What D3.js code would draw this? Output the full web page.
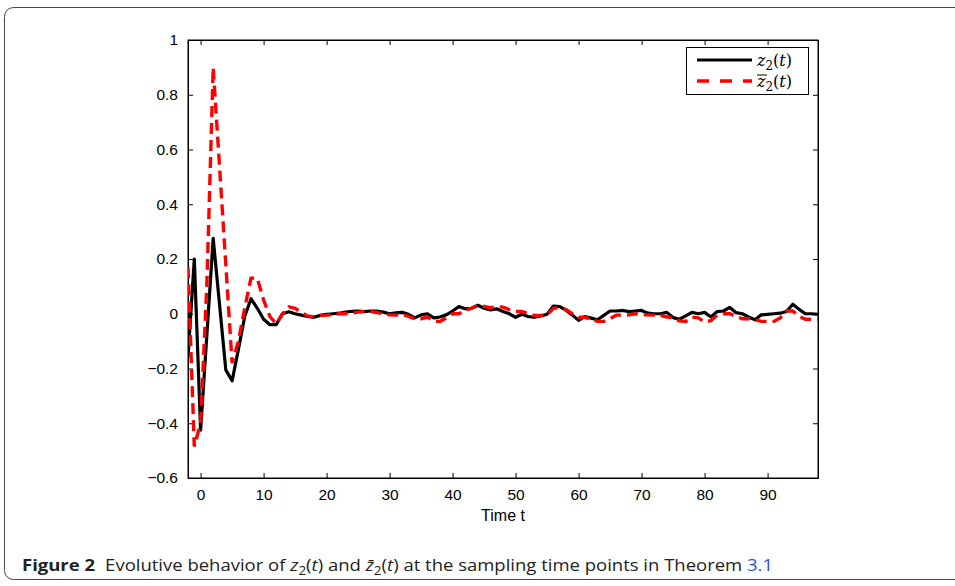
<!DOCTYPE html>
<html>
<head>
<meta charset="utf-8">
<script src="https://cdn.jsdelivr.net/npm/d3@7"></script>
<style>
  body { margin: 0; background: #fff; }
</style>
</head>
<body>
<script>
// sampling times t = -2 .. 98
var times = d3.range(-2, 99);

var z2 = [-0.16, 0.20, -0.425, -0.075, 0.275, 0.035, -0.205, -0.245, -0.13, -0.01,
  0.055, 0.02, -0.02, -0.04, -0.04, 0.0, 0.007, 0.0, -0.005, -0.01,
  -0.013, -0.006, -0.002, 0.0, 0.002, 0.006, 0.009, 0.01, 0.008, 0.01,
  0.01, 0.006, 0.0, 0.003, 0.005, -0.002, -0.015, -0.004, 0.0, -0.015,
  -0.012, -0.004, 0.01, 0.026, 0.018, 0.02, 0.031, 0.02, 0.014, 0.018,
  0.008, 0.0, -0.013, -0.002, -0.01, -0.013, -0.008, -0.002, 0.028, 0.026,
  0.013, -0.005, -0.024, -0.01, -0.016, -0.022, -0.006, 0.01, 0.01, 0.012,
  0.008, 0.01, 0.012, 0.002, 0.0, 0.0, 0.005, -0.014, -0.02, -0.008,
  0.005, 0.0, 0.005, -0.012, 0.008, 0.01, 0.023, 0.004, 0.0, -0.012,
  -0.022, -0.004, -0.002, 0.0, 0.002, 0.008, 0.035, 0.016, 0.0, 0.0, -0.002];

var z2bar = [0.17, -0.485, -0.40, 0.11, 0.90, 0.54, 0.18, -0.18, -0.10, 0.02,
  0.13, 0.13, 0.05, -0.01, -0.037, 0.0, 0.025, 0.02, 0.005, -0.008,
  -0.012, -0.006, -0.005, -0.003, 0.0, 0.0, 0.002, 0.006, 0.008, 0.008,
  0.004, 0.0, -0.004, -0.005, -0.002, -0.01, -0.018, -0.018, -0.012, -0.027,
  -0.028, -0.015, 0.0, 0.0, 0.012, 0.02, 0.03, 0.027, 0.022, 0.026,
  0.024, 0.015, 0.008, 0.008, 0.0, -0.006, -0.006, -0.004, 0.02, 0.022,
  0.015, 0.0, -0.013, -0.013, -0.02, -0.028, -0.028, -0.018, -0.005, -0.005,
  -0.004, 0.0, -0.004, -0.004, -0.005, -0.006, -0.012, -0.015, -0.026, -0.028,
  -0.012, -0.015, -0.03, -0.025, -0.005, 0.0, 0.0, -0.01, -0.018, -0.018,
  -0.022, -0.028, -0.028, -0.028, -0.015, 0.01, 0.01, -0.01, -0.02, -0.02, -0.02];

var xTicks = [0, 10, 20, 30, 40, 50, 60, 70, 80, 90];
var yTicks = [-0.6, -0.4, -0.2, 0, 0.2, 0.4, 0.6, 0.8, 1];

var W = 955, H = 586;
var m = {left: 188, right: 818, top: 40, bottom: 478};

var svg = d3.select("body").append("svg")
  .attr("width", W).attr("height", H)
  .attr("font-family", "'Liberation Sans', Arial, sans-serif");

// outer frame (rounded, runs off the right edge)
svg.append("rect")
  .attr("x", 4.5).attr("y", 7.5)
  .attr("width", 1000).attr("height", 572)
  .attr("rx", 9)
  .attr("fill", "none").attr("stroke", "#444").attr("stroke-width", 1);

var x = d3.scaleLinear().domain([-2, 98]).range([m.left, m.right]);
var y = d3.scaleLinear().domain([-0.6, 1]).range([m.bottom, m.top]);

var fmt = function(d) { return d === 0 ? "0" : String(d).replace("-", "\u2212"); };

// axes, MATLAB-like inward ticks on all four sides
svg.append("g").attr("transform", "translate(0," + m.bottom + ")")
  .call(d3.axisBottom(x).tickValues(xTicks).tickSizeInner(-5).tickSizeOuter(0).tickPadding(11).tickFormat(fmt));
svg.append("g").attr("transform", "translate(0," + m.top + ")")
  .call(d3.axisTop(x).tickValues(xTicks).tickSizeInner(-5).tickSizeOuter(0).tickFormat(""));
svg.append("g").attr("transform", "translate(" + m.left + ",0)")
  .call(d3.axisLeft(y).tickValues(yTicks).tickSizeInner(-5).tickSizeOuter(0).tickPadding(10).tickFormat(fmt));
svg.append("g").attr("transform", "translate(" + m.right + ",0)")
  .call(d3.axisRight(y).tickValues(yTicks).tickSizeInner(-5).tickSizeOuter(0).tickFormat(""));

svg.selectAll(".tick text").attr("font-size", 15.5).attr("fill", "#000")
  .attr("font-family", "'Liberation Sans', Arial, sans-serif");
svg.selectAll(".domain").attr("stroke", "#000");
svg.selectAll(".tick line").attr("stroke", "#000");

svg.append("rect")
  .attr("x", m.left).attr("y", m.top)
  .attr("width", m.right - m.left).attr("height", m.bottom - m.top)
  .attr("fill", "none").attr("stroke", "#000").attr("stroke-width", 1);

svg.append("clipPath").attr("id", "plotclip")
  .append("rect").attr("x", m.left).attr("y", m.top)
  .attr("width", m.right - m.left).attr("height", m.bottom - m.top);

var line = d3.line()
  .x(function(d, i) { return x(times[i]); })
  .y(function(d) { return y(d); });

var plot = svg.append("g").attr("clip-path", "url(#plotclip)");

plot.append("path").datum(z2)
  .attr("d", line)
  .attr("fill", "none").attr("stroke", "#000")
  .attr("stroke-width", 3.2).attr("stroke-linejoin", "round");

plot.append("path").datum(z2bar)
  .attr("d", line)
  .attr("fill", "none").attr("stroke", "#ff0000")
  .attr("stroke-width", 3.4).attr("stroke-dasharray", "11,6");

// legend
var lg = svg.append("g");
lg.append("rect").attr("x", 686.5).attr("y", 47.5).attr("width", 122).attr("height", 47)
  .attr("fill", "#fff").attr("stroke", "#000").attr("stroke-width", 1);
lg.append("line").attr("x1", 697).attr("x2", 752).attr("y1", 60).attr("y2", 60)
  .attr("stroke", "#000").attr("stroke-width", 3.2);
lg.append("line").attr("x1", 697).attr("x2", 752).attr("y1", 81).attr("y2", 81)
  .attr("stroke", "#ff0000").attr("stroke-width", 3.4).attr("stroke-dasharray", "12,11");

function zlabel(yy, bar) {
  var t = lg.append("text").attr("x", 757).attr("y", yy)
    .attr("font-family", "'DejaVu Serif', 'Liberation Serif', serif").attr("font-size", 16);
  t.append("tspan").attr("font-style", "italic").text("z");
  t.append("tspan").attr("font-size", 12).attr("dy", 4).text("2");
  t.append("tspan").attr("dy", -4).text("(");
  t.append("tspan").attr("font-style", "italic").text("t");
  t.append("tspan").text(")");
  if (bar) {
    lg.append("line").attr("x1", 757).attr("x2", 767).attr("y1", yy - 12).attr("y2", yy - 12)
      .attr("stroke", "#000").attr("stroke-width", 1);
  }
}
zlabel(66, false);
zlabel(87, true);

// x axis label
svg.append("text").attr("x", 503).attr("y", 521)
  .attr("text-anchor", "middle").attr("font-size", 16).text("Time t");

// caption
var cap = svg.append("text").attr("x", 22).attr("y", 571)
  .attr("font-family", "'Open Sans', 'Noto Sans', sans-serif").attr("font-size", 16.5).attr("fill", "#222")
  .attr("textLength", 751).attr("lengthAdjust", "spacingAndGlyphs");
cap.append("tspan").attr("font-weight", "bold").text("Figure 2");
cap.append("tspan").attr("dx", 9).text("Evolutive behavior of ");
cap.append("tspan").attr("font-style", "italic").text("z");
cap.append("tspan").attr("font-size", 12).attr("dy", 4).text("2");
cap.append("tspan").attr("dy", -4).text("(");
cap.append("tspan").attr("font-style", "italic").text("t");
cap.append("tspan").text(") and ");
cap.append("tspan").attr("font-style", "italic").text("z\u0304");
cap.append("tspan").attr("font-size", 12).attr("dy", 4).text("2");
cap.append("tspan").attr("dy", -4).text("(");
cap.append("tspan").attr("font-style", "italic").text("t");
cap.append("tspan").text(") at the sampling time points in Theorem ");
cap.append("tspan").attr("fill", "#2a4fd6").text("3.1");
</script>
</body>
</html>
